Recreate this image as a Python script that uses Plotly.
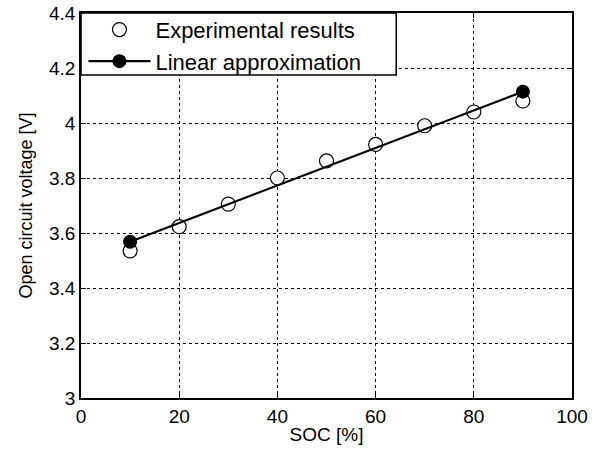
import plotly.graph_objects as go

soc = [10, 20, 30, 40, 50, 60, 70, 80, 90]
ocv_exp = [3.535, 3.623, 3.705, 3.800, 3.862, 3.922, 3.990, 4.040, 4.080]
soc_lin = [10, 90]
ocv_lin = [3.568, 4.114]

x_ticks = [0, 20, 40, 60, 80, 100]
y_ticks = [3, 3.2, 3.4, 3.6, 3.8, 4, 4.2, 4.4]
y_tick_labels = ["3", "3.2", "3.4", "3.6", "3.8", "4", "4.2", "4.4"]

FONT = "Liberation Sans, Arial, sans-serif"

fig = go.Figure()
fig.add_trace(go.Scatter(
    x=soc, y=ocv_exp, mode="markers", name="Experimental results",
    marker=dict(symbol="circle", size=14, color="white", line=dict(color="black", width=1.2)),
))
fig.add_trace(go.Scatter(
    x=soc_lin, y=ocv_lin, mode="lines+markers", name="Linear approximation",
    line=dict(color="black", width=2.2),
    marker=dict(symbol="circle", size=14, color="black"),
))

axis_common = dict(
    showgrid=True, gridcolor="black", griddash="dot", gridwidth=1.2,
    showline=True, linecolor="black", linewidth=1.5, mirror="ticks",
    ticks="inside", ticklen=5, tickcolor="black",
    tickfont=dict(family=FONT, size=19, color="black"),
    zeroline=False,
)

fig.update_xaxes(range=[0, 100], tickvals=x_ticks,
                 title=dict(text="SOC [%]", font=dict(family=FONT, size=19, color="black"), standoff=2),
                 **axis_common)
fig.update_yaxes(range=[3, 4.4], tickvals=y_ticks, ticktext=y_tick_labels,
                 title=dict(text="Open circuit voltage [V]", font=dict(family=FONT, size=18, color="black"), standoff=12),
                 **axis_common)

# legend frame (box) in paper coordinates
fig.add_shape(type="rect", xref="paper", yref="paper",
              x0=0, x1=0.642, y0=0.839, y1=1,
              line=dict(color="black", width=1.5), fillcolor="white", layer="above")

fig.update_layout(
    width=606, height=453,
    margin=dict(l=81, r=34, t=13, b=55, autoexpand=False),
    plot_bgcolor="white", paper_bgcolor="white",
    legend=dict(x=0.005, y=1.011, xanchor="left", yanchor="top",
                bgcolor="rgba(0,0,0,0)", borderwidth=0,
                font=dict(family=FONT, size=22, color="black"),
                itemwidth=62, tracegroupgap=0),
    showlegend=True,
)

fig.write_html("out.html")
